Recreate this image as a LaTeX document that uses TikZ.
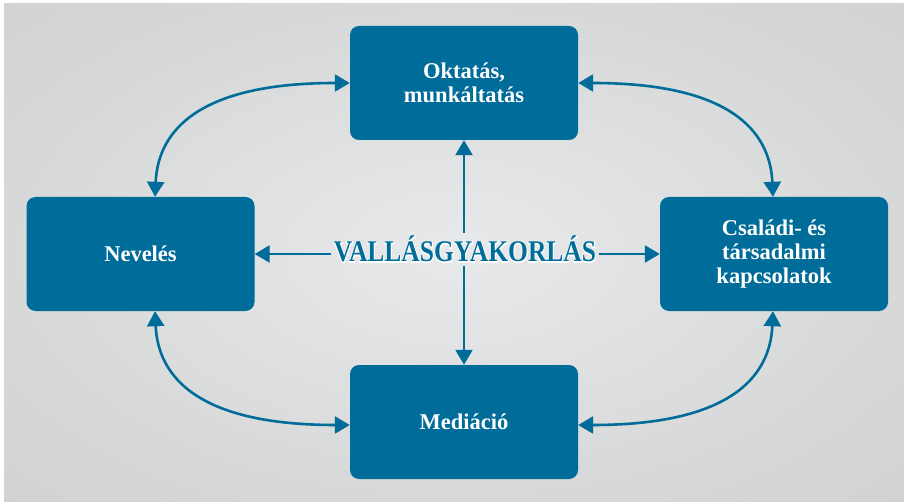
\documentclass[tikz,border=0pt]{standalone}
\usepackage{fontspec}
\setmainfont{Liberation Serif}
\newfontfamily\titlefont[FakeStretch=0.85]{Liberation Serif}
\newfontfamily\halofont[FakeStretch=0.85,FakeBold=6]{Liberation Serif}
\usetikzlibrary{arrows.meta}
\definecolor{boxblue}{HTML}{006C99}
\definecolor{bgin}{HTML}{E8E9EA}
\definecolor{bgout}{HTML}{C9CACA}
\pgfdeclareradialshading{bgshade}{\pgfpoint{0bp}{0bp}}{color(0bp)=(bgin); color(25bp)=(bgin!45!bgout); color(50bp)=(bgout)}
\begin{document}
\begin{tikzpicture}[x=1pt,y=1pt,
  box/.style={fill=boxblue, rounded corners=9pt, minimum width=228pt, minimum height=114pt,
    inner sep=0pt, text=white, font=\bfseries\fontsize{22.5}{24}\selectfont, align=center},
  link/.style={draw=boxblue, line width=2.6pt,
    {Triangle[length=15pt,width=17pt]}-{Triangle[length=15pt,width=17pt]}},
  halflink/.style={draw=boxblue, line width=2.6pt, -{Triangle[length=15pt,width=17pt]}},
  titletext/.style={anchor=base, inner xsep=3pt, inner ysep=3pt,
    font=\fontsize{30}{30}\selectfont},
]
\useasboundingbox (0,0) rectangle (904,501);
\fill[white] (0,0) rectangle (904,501);
\shade[shading=bgshade] (4,0) rectangle (904,497);

\node[box] (top) at (464,418) {Oktatás,\\munkáltatás};
\node[box] (left) at (140.5,247) {Nevelés};
\node[box] (right) at (774,247) {Családi- és\\társadalmi\\kapcsolatok};
\node[box] (bottom) at (464,79) {Mediáció};

\node[titletext, text=white] (halo) at (465,239) {\halofont\bfseries VALLÁSGYAKORLÁS};
\node[titletext, text=boxblue] (title) at (465,239) {\titlefont\bfseries VALLÁSGYAKORLÁS};

\draw[link] (top.west) .. controls +(-150,0) and +(3,67) .. ([xshift=14.5pt]left.north);
\draw[link] (top.east) .. controls +(150,0) and +(-3,67) .. ([xshift=-1pt]right.north);
\draw[link] ([yshift=-3pt]bottom.west) .. controls +(-150,0) and +(3,-67) .. ([xshift=14.5pt]left.south);
\draw[link] ([yshift=-3pt]bottom.east) .. controls +(150,0) and +(-3,-67) .. ([xshift=-1pt]right.south);
\draw[halflink] (top.south |- halo.north) -- (top.south);
\draw[halflink] (top.south |- halo.south) -- (bottom.north);
\draw[halflink] (halo.west |- left.east) -- (left.east);
\draw[halflink] (halo.east |- right.west) -- (right.west);
\end{tikzpicture}
\end{document}
